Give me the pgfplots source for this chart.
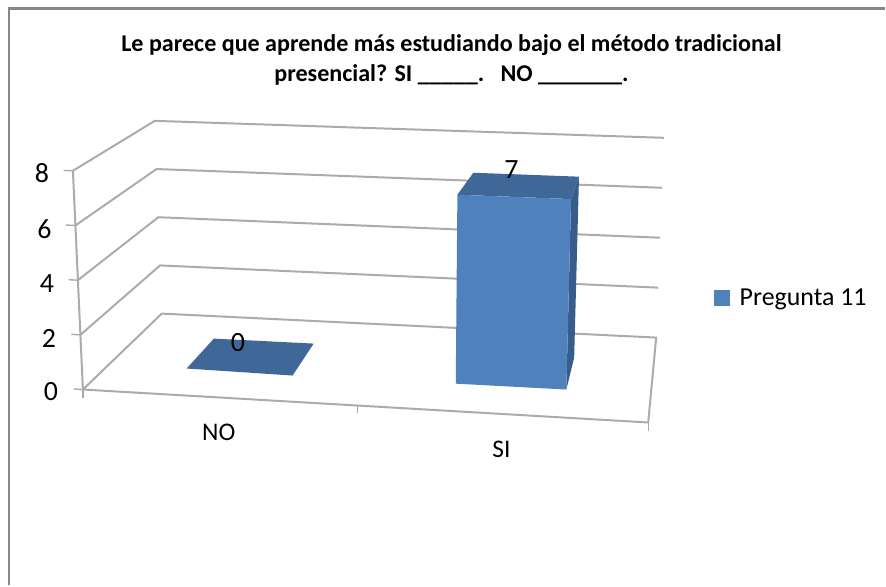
\documentclass[border=0pt]{standalone}
\usepackage{pgfplots}
\pgfplotsset{compat=1.18}
\usepackage{fontspec}
\setmainfont{Carlito}
\definecolor{barfront}{HTML}{4F81BD}
\definecolor{bartop}{HTML}{3F6797}
\definecolor{barside}{HTML}{385D8A}
\definecolor{gridgray}{HTML}{ABABAB}
\definecolor{framegray}{HTML}{868686}
% Projection of (u = along categories 0..1, w = depth 0..1, v = value 0..8) on to the picture.
\newcommand\PX{((1-\thisrow{v}/8)*(83+566*\thisrow{u}+79*\thisrow{w}-71*\thisrow{u}*\thisrow{w})+(\thisrow{v}/8)*(73+584*\thisrow{u}+82*\thisrow{w}-74*\thisrow{u}*\thisrow{w}))}
\newcommand\PY{((1-\thisrow{v}/8)*(390+33*\thisrow{u}-76*\thisrow{w}-9*\thisrow{u}*\thisrow{w})+(\thisrow{v}/8)*(171+23*\thisrow{u}-50*\thisrow{w}-6*\thisrow{u}*\thisrow{w}))}
\pgfplotsset{table/proj/.style={x expr=\PX,y expr=\PY,row sep=\\}}
\begin{document}
\begin{tikzpicture}
\begin{axis}[
  scale only axis,width=886bp,height=586bp,
  xmin=0,xmax=886,ymin=0,ymax=586,y dir=reverse,
  hide axis,clip=false,
  legend style={at={(axis cs:715,298)},anchor=west,draw=none,fill=none,
    font=\fontsize{26}{28}\selectfont,inner sep=0pt,
    legend cell align=left,/tikz/every even column/.append style={column sep=0pt}},
]
% page extent
\addplot[draw=none,mark=none,forget plot] coordinates {(0,0)(886,586)};
% chart frame
\addplot[framegray,line width=2.2pt,mark=none,forget plot] coordinates {(9,586)(9,8.5)(886,8.5)};
% floor
\addplot[gridgray,line width=2pt,mark=none,forget plot] table[proj] {u w v\\ 0 0 0\\ 1 0 0\\ 1 1 0\\ 0 1 0\\ 0 0 0\\};
% value axis line and wall gridlines
\addplot[gridgray,line width=2pt,mark=none,forget plot] table[proj] {u w v\\ 0 0 0\\ 0 0 8\\};
\addplot[gridgray,line width=2pt,mark=none,forget plot] table[proj] {u w v\\ 0 0 2\\ 0 1 2\\ 1 1 2\\};
\addplot[gridgray,line width=2pt,mark=none,forget plot] table[proj] {u w v\\ 0 0 4\\ 0 1 4\\ 1 1 4\\};
\addplot[gridgray,line width=2pt,mark=none,forget plot] table[proj] {u w v\\ 0 0 6\\ 0 1 6\\ 1 1 6\\};
\addplot[gridgray,line width=2pt,mark=none,forget plot] table[proj] {u w v\\ 0 0 8\\ 0 1 8\\ 1 1 8\\};
% tick marks
\addplot[gridgray,line width=1.4pt,mark=none,forget plot] table[proj] {u w v\\ -0.016 0 0\\ 0 0 0\\};
\addplot[gridgray,line width=1.4pt,mark=none,forget plot] table[proj] {u w v\\ -0.016 0 2\\ 0 0 2\\};
\addplot[gridgray,line width=1.4pt,mark=none,forget plot] table[proj] {u w v\\ -0.016 0 4\\ 0 0 4\\};
\addplot[gridgray,line width=1.4pt,mark=none,forget plot] table[proj] {u w v\\ -0.016 0 6\\ 0 0 6\\};
\addplot[gridgray,line width=1.4pt,mark=none,forget plot] table[proj] {u w v\\ -0.016 0 8\\ 0 0 8\\};
\addplot[gridgray,line width=1.4pt,mark=none,forget plot] coordinates {(83,390)(83,398)};
\addplot[gridgray,line width=1.4pt,mark=none,forget plot] coordinates {(358,406)(358,414)};
\addplot[gridgray,line width=1.4pt,mark=none,forget plot] coordinates {(649,423)(649,432)};
% bar NO, value 0
\addplot[fill=bartop,draw=none,mark=none,forget plot] table[proj] {u w v\\ 0.143 0.333 0\\ 0.340 0.319 0\\ 0.338 0.723 0\\ 0.144 0.721 0\\};
% bar SI, value 7
\addplot[fill=barside,draw=none,mark=none,forget plot] table[proj] {u w v\\ 0.844 0.333 0\\ 0.845 0.716 0\\ 0.845 0.716 7\\ 0.844 0.333 7\\};
\addplot[fill=bartop,draw=none,mark=none,forget plot] table[proj] {u w v\\ 0.640 0.330 7\\ 0.844 0.333 7\\ 0.845 0.716 7\\ 0.645 0.716 7\\};
\addplot[fill=barfront,draw=none,mark=none,forget plot] table[proj] {u w v\\ 0.640 0.330 0\\ 0.844 0.333 0\\ 0.844 0.333 7\\ 0.640 0.330 7\\};
% data labels
\addplot[only marks,mark=none,forget plot,point meta=explicit,
  nodes near coords,nodes near coords align={anchor=center},
  every node near coord/.append style={font=\fontsize{28}{30}\selectfont,inner sep=0pt,
    /pgf/number format/assume math mode=true,/pgf/number format/fixed},
  ] table[proj,meta=v] {u w v\\ 0.195 0.687 0\\ 0.713 0.79 7\\};
% legend
\addlegendimage{legend image code/.code={\fill[barfront] (0bp,-7.5bp) rectangle (15bp,7.5bp);}}
\addlegendentry{\hspace{8bp}Pregunta 11}
% title
\node[font=\fontsize{24.2}{30.5}\selectfont\bfseries,align=center,anchor=center] at (axis cs:452,60)
  {Le parece que aprende más estudiando bajo el método tradicional\\presencial? SI \_\_\_\_\_.~~~NO \_\_\_\_\_\_\_.};
% value tick labels
\foreach \xx/\yy/\tt in {51/392/0,49/339/2,47/284/4,44.5/229/6,42/173/8}{
  \edef\tmp{\noexpand\node[font=\noexpand\fontsize{28}{30}\noexpand\selectfont,inner sep=0pt] at (axis cs:\xx,\yy) {\tt};}\tmp
}
% category labels
\node[font=\fontsize{25.5}{28}\selectfont,inner sep=0pt] at (axis cs:219,433) {NO};
\node[font=\fontsize{25.5}{28}\selectfont,inner sep=0pt] at (axis cs:502,450) {SI};
\end{axis}
\end{tikzpicture}
\end{document}
